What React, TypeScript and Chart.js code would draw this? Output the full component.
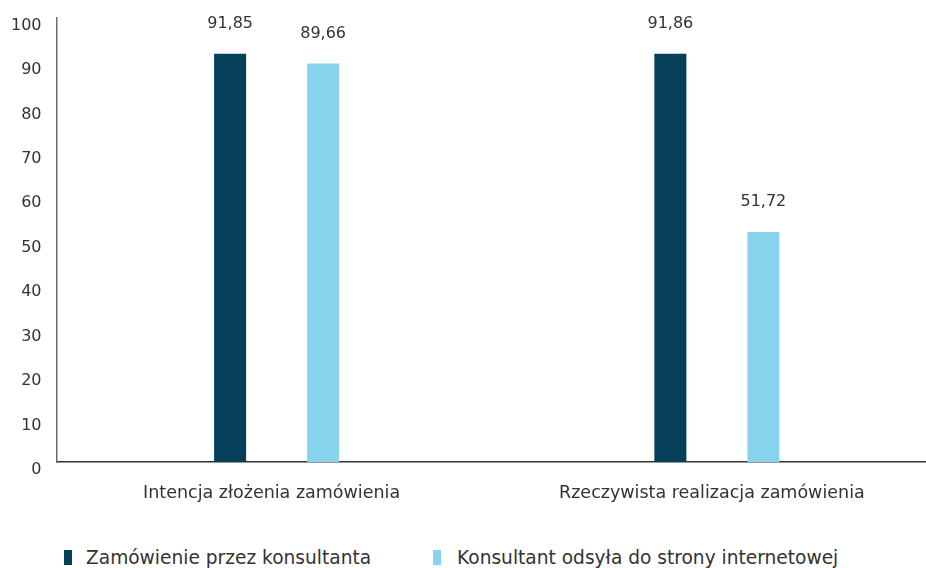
import React, { useEffect, useRef } from "react";
import { Chart, registerables } from "chart.js";

Chart.register(...registerables);

const categories = ["Intencja złożenia zamówienia", "Rzeczywista realizacja zamówienia"];
const seriesNames = ["Zamówienie przez konsultanta", "Konsultant odsyła do strony internetowej"];
const consultantValues = [91.85, 91.86];
const websiteValues = [89.66, 51.72];
const seriesColors = ["#063f5a", "#87d3ee"];
const yTicks = [0, 10, 20, 30, 40, 50, 60, 70, 80, 90, 100];

const FONT = "'DejaVu Sans', sans-serif";
const TEXT = "#333333";

const valueLabels = {
  id: "valueLabels",
  afterDatasetsDraw(chart: any) {
    const ctx = chart.ctx;
    ctx.save();
    ctx.font = `16px ${FONT}`;
    ctx.fillStyle = TEXT;
    ctx.textAlign = "center";
    ctx.textBaseline = "middle";
    chart.data.datasets.forEach((ds: any, i: number) => {
      const meta = chart.getDatasetMeta(i);
      meta.data.forEach((bar: any, j: number) => {
        const v = ds.data[j];
        ctx.fillText(v.toFixed(2).replace(".", ","), bar.x, bar.y - 30);
      });
    });
    ctx.restore();
  },
};

export default function App() {
  const ref = useRef<HTMLCanvasElement>(null);
  useEffect(() => {
    const chart = new Chart(ref.current!, {
      type: "bar",
      data: {
        labels: categories,
        datasets: [
          { label: seriesNames[0], data: consultantValues, backgroundColor: seriesColors[0] },
          { label: seriesNames[1], data: websiteValues, backgroundColor: seriesColors[1] },
        ],
      },
      options: {
        animation: false,
        responsive: false,
        devicePixelRatio: 1,
        layout: { padding: { top: 17.5, right: 3, bottom: 0, left: 0 } },
        datasets: { bar: { categoryPercentage: 0.4227, barPercentage: 0.344 } },
        plugins: { legend: { display: false }, tooltip: { enabled: false } },
        scales: {
          x: {
            offset: true,
            grid: { display: false, drawTicks: false },
            border: { display: true, color: "#333333", width: 1.5 },
            ticks: { color: TEXT, font: { family: FONT, size: 17.5 }, padding: 21, maxRotation: 0, labelOffset: -5 },
            afterFit: (s: any) => { s.paddingLeft = 0; s.paddingRight = 0; },
          },
          y: {
            min: 0,
            max: 100,
            afterBuildTicks: (s: any) => { s.ticks = yTicks.map((v) => ({ value: v })); },
            afterFit: (s: any) => { s.width = 56.5; s.paddingTop = 0; s.paddingBottom = 0; },
            grid: { display: false, drawTicks: false },
            border: { display: true, color: "#6b6b6b", width: 1.5 },
            ticks: { color: TEXT, font: { family: FONT, size: 16 }, padding: 15, labelOffset: 8 },
          },
        },
      },
      plugins: [valueLabels],
    } as any);
    return () => chart.destroy();
  }, []);

  const legendText: React.CSSProperties = {
    position: "absolute",
    top: 547,
    fontFamily: FONT,
    fontSize: 18.6,
    color: TEXT,
    lineHeight: "22px",
    whiteSpace: "nowrap",
  };
  const marker = (left: number, color: string): React.CSSProperties => ({
    position: "absolute",
    left,
    top: 550,
    width: 8,
    height: 15,
    background: color,
  });

  return (
    <div style={{ position: "absolute", left: 0, top: 0, width: 926, height: 568, overflow: "hidden", background: "#fff" }}>
      <canvas ref={ref} width={940} height={525} style={{ position: "absolute", left: 0, top: 0 }} />
      <div style={marker(64, seriesColors[0])} />
      <div style={{ ...legendText, left: 86 }}>{seriesNames[0]}</div>
      <div style={marker(433, seriesColors[1])} />
      <div style={{ ...legendText, left: 457 }}>{seriesNames[1]}</div>
    </div>
  );
}
